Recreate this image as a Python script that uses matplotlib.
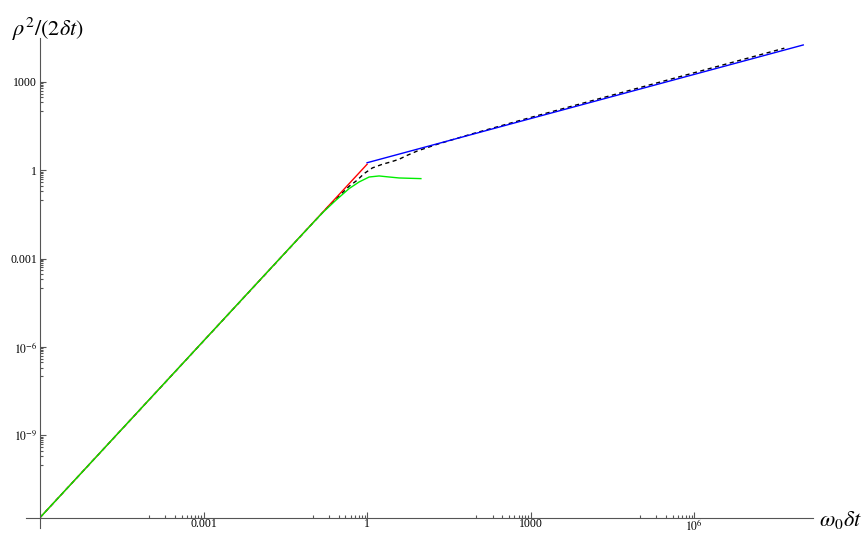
import numpy as np
import matplotlib
matplotlib.use("Agg")
import matplotlib.pyplot as plt

plt.rcParams['font.family'] = ['Liberation Serif', 'DejaVu Serif']
plt.rcParams['mathtext.fontset'] = 'stix'

# small-x asymptote (red), large-x asymptote (blue)
red_x = [1e-6, 1.0]
red_y = [1.6e-12, 1.6]
blue_x = [1.0, 1e8]
blue_y = [1.8, 1.8e4]

# green curve
green_x = [1e-6, 0.05, 0.15, 0.266, 0.467, 0.713, 1.09, 1.66, 2.54, 3.87, 5.9, 9.7]
green_y = [1.6e-12, 0.004, 0.035, 0.095, 0.238, 0.40, 0.59, 0.64, 0.59, 0.547, 0.534, 0.52]

# dashed black crossover curve
dashed_x = [1e-6, 0.1, 0.2, 0.467, 0.655, 0.881, 1.25, 1.91, 2.73, 3.87, 5.5, 8.4,
            19.6, 80.5, 1e3, 1e5, 4.5e7]
dashed_y = [1.6e-12, 0.0158, 0.062, 0.285, 0.457, 0.772, 1.20, 1.60, 1.92, 2.37, 3.24, 4.54,
            7.7, 16.8, 62, 640, 1.4e4]

xticks = [1e-3, 1, 1e3, 1e6]
xticklabels = ['0.001', '1', '1000', r'$10^{6}$']
yticks = [1e-9, 1e-6, 1e-3, 1, 1e3]
yticklabels = [r'$10^{-9}$', r'$10^{-6}$', '0.001', '1', '1000']

axcol = '#555555'

fig = plt.figure(figsize=(8.62, 5.33), dpi=100)
ax = fig.add_axes([40/862, 15/533, 773/862, 480/533])

ax.plot(dashed_x, dashed_y, color='black', lw=1.0, ls=(0, (3, 2.5)))
ax.plot(red_x, red_y, color='#ff0000', lw=1.0)
ax.plot(green_x, green_y, color='#00ee00', lw=1.0)
ax.plot(blue_x, blue_y, color='#0000ff', lw=1.0)

ax.set_xscale('log')
ax.set_yscale('log')
ax.set_xlim(1e-6, 1.51e8)
ax.set_ylim(1.55e-12, 3.1e4)

ax.set_xticks(xticks)
ax.set_xticklabels(xticklabels)
ax.set_yticks(yticks)
ax.set_yticklabels(yticklabels)
xminor = [m * t / 10 for t in xticks for m in range(1, 10)]
yminor = [m * t / 10 for t in yticks for m in range(1, 10)]
ax.set_xticks(xminor, minor=True)
ax.set_yticks(yminor, minor=True)
ax.xaxis.set_minor_formatter(matplotlib.ticker.NullFormatter())
ax.yaxis.set_minor_formatter(matplotlib.ticker.NullFormatter())

ax.tick_params(which='both', direction='in', color=axcol, labelsize=8.5, width=0.8)
ax.tick_params(which='major', length=4)
ax.tick_params(which='minor', length=2.2)
ax.tick_params(axis='x', pad=0)
ax.tick_params(axis='y', pad=2)

for s in ['top', 'right']:
    ax.spines[s].set_visible(False)
for s in ['left', 'bottom']:
    ax.spines[s].set_color(axcol)
    ax.spines[s].set_linewidth(0.8)

# axes run a little past the origin
ax.plot([-0.018, 0], [0, 0], transform=ax.transAxes, clip_on=False, color=axcol, lw=0.8)
ax.plot([0, 0], [-0.02, 0], transform=ax.transAxes, clip_on=False, color=axcol, lw=0.8)

fig.text(12/862, 1 - 29/533, r'$\rho^2/(2\delta t)$', fontsize=16, ha='left', va='center')
fig.text(819/862, 1 - 526/533, r'$\omega_0\delta t$', fontsize=16, ha='left', va='baseline')

fig.savefig('out.png', dpi=100)
